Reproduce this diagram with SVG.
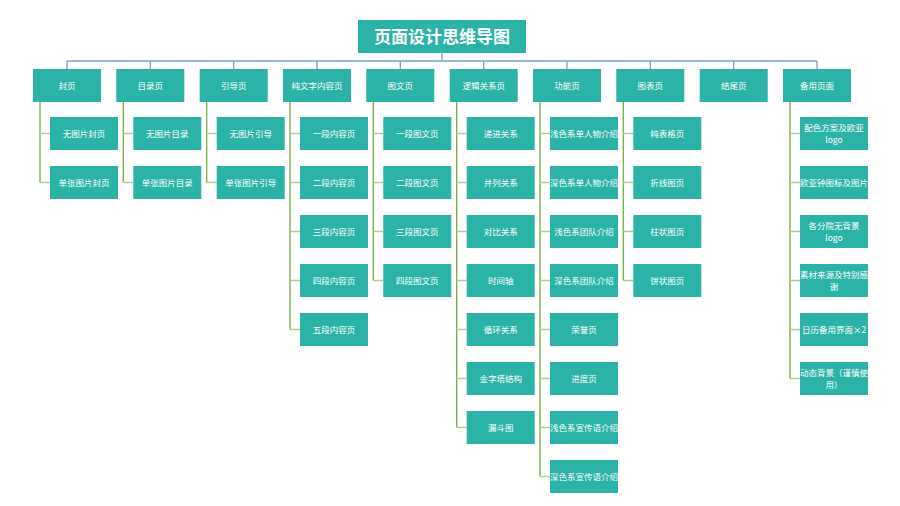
<svg xmlns="http://www.w3.org/2000/svg" width="900" height="506" viewBox="0 0 900 506">
<defs>
<style>
.box{fill:#2ab3a6}
.t{font-family:"Noto Sans CJK SC","Liberation Sans",sans-serif;font-size:8.5px;fill:#ffffff;text-anchor:middle;dominant-baseline:central}
.title{font-family:"Noto Sans CJK SC","Liberation Sans",sans-serif;font-size:17px;font-weight:bold;fill:#ffffff;text-anchor:middle;dominant-baseline:central}
.bus{stroke:#6fa3dc;stroke-width:1.3;fill:none}
.vl{stroke:#74ad45;stroke-width:1.3;fill:none}
.hl{stroke:#a9d18e;stroke-width:1.6;fill:none}
</style>
<g id="nodeShape">
<rect class="box" x="0" y="0" width="68" height="33"/>
</g>
</defs>
<rect width="900" height="506" fill="#ffffff"/>
<g id="connectors">
<line class="bus" x1="442" y1="53" x2="442" y2="61" stroke-width="2"/>
<line class="bus" x1="67" y1="61" x2="817" y2="61"/>
<path class="bus" d="M67 61V69M150.3 61V69M233.7 61V69M317 61V69M400.3 61V69M483.7 61V69M567 61V69M650.3 61V69M733.7 61V69M817 61V69"/>
<path class="vl" d="M40 102V182.5M123.3 102V182.5M206.7 102V182.5M290 102V329.5M373.3 102V280.5M456.7 102V427.5M540 102V476.5M623.3 102V280.5M790 102V378.5"/>
<path class="hl" d="M40 133.5H50M40 182.5H50"/>
<path class="hl" d="M123.3 133.5H133.3M123.3 182.5H133.3"/>
<path class="hl" d="M206.7 133.5H216.7M206.7 182.5H216.7"/>
<path class="hl" d="M290 133.5H300M290 182.5H300M290 231.5H300M290 280.5H300M290 329.5H300"/>
<path class="hl" d="M373.3 133.5H383.3M373.3 182.5H383.3M373.3 231.5H383.3M373.3 280.5H383.3"/>
<path class="hl" d="M456.7 133.5H466.7M456.7 182.5H466.7M456.7 231.5H466.7M456.7 280.5H466.7M456.7 329.5H466.7M456.7 378.5H466.7M456.7 427.5H466.7"/>
<path class="hl" d="M540 133.5H550M540 182.5H550M540 231.5H550M540 280.5H550M540 329.5H550M540 378.5H550M540 427.5H550M540 476.5H550"/>
<path class="hl" d="M623.3 133.5H633.3M623.3 182.5H633.3M623.3 231.5H633.3M623.3 280.5H633.3"/>
<path class="hl" d="M790 133.5H800M790 182.5H800M790 231.5H800M790 280.5H800M790 329.5H800M790 378.5H800"/>
</g>
<g id="title"><rect class="box" x="358" y="20" width="168" height="33"/><text class="title" x="442" y="35.5">页面设计思维导图</text></g>

<g id="n-fengye"><use href="#nodeShape" x="33" y="69"/><text class="t" x="67" y="84.5">封页</text></g>
<g id="n-mulu"><use href="#nodeShape" x="116.3" y="69"/><text class="t" x="150.3" y="84.5">目录页</text></g>
<g id="n-yindao"><use href="#nodeShape" x="199.7" y="69"/><text class="t" x="233.7" y="84.5">引导页</text></g>
<g id="n-chunwenzi"><use href="#nodeShape" x="283" y="69"/><text class="t" x="317" y="84.5">纯文字内容页</text></g>
<g id="n-tuwen"><use href="#nodeShape" x="366.3" y="69"/><text class="t" x="400.3" y="84.5">图文页</text></g>
<g id="n-luoji"><use href="#nodeShape" x="449.7" y="69"/><text class="t" x="483.7" y="84.5">逻辑关系页</text></g>
<g id="n-gongneng"><use href="#nodeShape" x="533" y="69"/><text class="t" x="567" y="84.5">功能页</text></g>
<g id="n-tubiao"><use href="#nodeShape" x="616.3" y="69"/><text class="t" x="650.3" y="84.5">图表页</text></g>
<g id="n-jiewei"><use href="#nodeShape" x="699.7" y="69"/><text class="t" x="733.7" y="84.5">结尾页</text></g>
<g id="n-beiyong"><use href="#nodeShape" x="783" y="69"/><text class="t" x="817" y="84.5">备用页面</text></g>

<g id="c-fengye-1"><use href="#nodeShape" x="50" y="117"/><text class="t" x="84" y="132.5">无图片封页</text></g>
<g id="c-fengye-2"><use href="#nodeShape" x="50" y="166"/><text class="t" x="84" y="181.5">单张图片封页</text></g>

<g id="c-mulu-1"><use href="#nodeShape" x="133.3" y="117"/><text class="t" x="167.3" y="132.5">无图片目录</text></g>
<g id="c-mulu-2"><use href="#nodeShape" x="133.3" y="166"/><text class="t" x="167.3" y="181.5">单张图片目录</text></g>

<g id="c-yindao-1"><use href="#nodeShape" x="216.7" y="117"/><text class="t" x="250.7" y="132.5">无图片引导</text></g>
<g id="c-yindao-2"><use href="#nodeShape" x="216.7" y="166"/><text class="t" x="250.7" y="181.5">单张图片引导</text></g>

<g id="c-chun-1"><use href="#nodeShape" x="300" y="117"/><text class="t" x="334" y="132.5">一段内容页</text></g>
<g id="c-chun-2"><use href="#nodeShape" x="300" y="166"/><text class="t" x="334" y="181.5">二段内容页</text></g>
<g id="c-chun-3"><use href="#nodeShape" x="300" y="215"/><text class="t" x="334" y="230.5">三段内容页</text></g>
<g id="c-chun-4"><use href="#nodeShape" x="300" y="264"/><text class="t" x="334" y="279.5">四段内容页</text></g>
<g id="c-chun-5"><use href="#nodeShape" x="300" y="313"/><text class="t" x="334" y="328.5">五段内容页</text></g>

<g id="c-tuwen-1"><use href="#nodeShape" x="383.3" y="117"/><text class="t" x="417.3" y="132.5">一段图文页</text></g>
<g id="c-tuwen-2"><use href="#nodeShape" x="383.3" y="166"/><text class="t" x="417.3" y="181.5">二段图文页</text></g>
<g id="c-tuwen-3"><use href="#nodeShape" x="383.3" y="215"/><text class="t" x="417.3" y="230.5">三段图文页</text></g>
<g id="c-tuwen-4"><use href="#nodeShape" x="383.3" y="264"/><text class="t" x="417.3" y="279.5">四段图文页</text></g>

<g id="c-luoji-1"><use href="#nodeShape" x="466.7" y="117"/><text class="t" x="500.7" y="132.5">递进关系</text></g>
<g id="c-luoji-2"><use href="#nodeShape" x="466.7" y="166"/><text class="t" x="500.7" y="181.5">并列关系</text></g>
<g id="c-luoji-3"><use href="#nodeShape" x="466.7" y="215"/><text class="t" x="500.7" y="230.5">对比关系</text></g>
<g id="c-luoji-4"><use href="#nodeShape" x="466.7" y="264"/><text class="t" x="500.7" y="279.5">时间轴</text></g>
<g id="c-luoji-5"><use href="#nodeShape" x="466.7" y="313"/><text class="t" x="500.7" y="328.5">循环关系</text></g>
<g id="c-luoji-6"><use href="#nodeShape" x="466.7" y="362"/><text class="t" x="500.7" y="377.5">金字塔结构</text></g>
<g id="c-luoji-7"><use href="#nodeShape" x="466.7" y="411"/><text class="t" x="500.7" y="426.5">漏斗图</text></g>

<g id="c-gn-1"><use href="#nodeShape" x="550" y="117"/><text class="t" x="584" y="132.5">浅色系单人物介绍</text></g>
<g id="c-gn-2"><use href="#nodeShape" x="550" y="166"/><text class="t" x="584" y="181.5">深色系单人物介绍</text></g>
<g id="c-gn-3"><use href="#nodeShape" x="550" y="215"/><text class="t" x="584" y="230.5">浅色系团队介绍</text></g>
<g id="c-gn-4"><use href="#nodeShape" x="550" y="264"/><text class="t" x="584" y="279.5">深色系团队介绍</text></g>
<g id="c-gn-5"><use href="#nodeShape" x="550" y="313"/><text class="t" x="584" y="328.5">荣誉页</text></g>
<g id="c-gn-6"><use href="#nodeShape" x="550" y="362"/><text class="t" x="584" y="377.5">进度页</text></g>
<g id="c-gn-7"><use href="#nodeShape" x="550" y="411"/><text class="t" x="584" y="426.5">浅色系宣传语介绍</text></g>
<g id="c-gn-8"><use href="#nodeShape" x="550" y="460"/><text class="t" x="584" y="475.5">深色系宣传语介绍</text></g>

<g id="c-tb-1"><use href="#nodeShape" x="633.3" y="117"/><text class="t" x="667.3" y="132.5">纯表格页</text></g>
<g id="c-tb-2"><use href="#nodeShape" x="633.3" y="166"/><text class="t" x="667.3" y="181.5">折线图页</text></g>
<g id="c-tb-3"><use href="#nodeShape" x="633.3" y="215"/><text class="t" x="667.3" y="230.5">柱状图页</text></g>
<g id="c-tb-4"><use href="#nodeShape" x="633.3" y="264"/><text class="t" x="667.3" y="279.5">饼状图页</text></g>

<g id="c-by-1"><use href="#nodeShape" x="800" y="117"/><text class="t" x="834" y="126.5">配色方案及欧亚</text><text class="t" x="834" y="139">logo</text></g>
<g id="c-by-2"><use href="#nodeShape" x="800" y="166"/><text class="t" x="834" y="181.5">欧亚钟图标及图片</text></g>
<g id="c-by-3"><use href="#nodeShape" x="800" y="215"/><text class="t" x="834" y="224.5">各分院无背景</text><text class="t" x="834" y="237">logo</text></g>
<g id="c-by-4"><use href="#nodeShape" x="800" y="264"/><text class="t" x="834" y="273.5">素材来源及特别感</text><text class="t" x="834" y="286">谢</text></g>
<g id="c-by-5"><use href="#nodeShape" x="800" y="313"/><text class="t" x="834" y="328.5">日历备用界面×2</text></g>
<g id="c-by-6"><use href="#nodeShape" x="800" y="362"/><text class="t" x="834" y="371.5">动态背景（谨慎使</text><text class="t" x="834" y="384">用）</text></g>
</svg>
